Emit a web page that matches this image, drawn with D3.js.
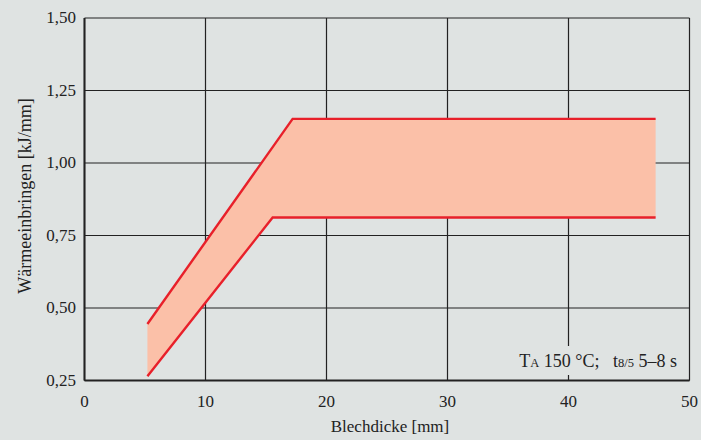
<!DOCTYPE html>
<html><head><meta charset="utf-8">
<script src="https://cdn.jsdelivr.net/npm/d3@7"></script>
<style>html,body{margin:0;padding:0;background:#dfe3e2;}svg{display:block;} text{font-family:"Liberation Serif",serif; white-space:pre;}</style>
</head><body>
<svg id="c" width="701" height="440"></svg>
<script>
const xTicks = [0,10,20,30,40,50];
const yTicks = [0.25,0.50,0.75,1.00,1.25,1.50];
const upperX = [5.2, 17.2, 47.2];
const upperY = [0.445, 1.152, 1.152];
const lowerX = [5.2, 15.55, 47.2];
const lowerY = [0.265, 0.812, 0.812];
const xLabel = "Blechdicke [mm]";
const yLabel = "Wärmeeinbringen [kJ/mm]";

const svg = d3.select("#c");
const x = d3.scaleLinear().domain([0,50]).range([84.5,689.5]);
const y = d3.scaleLinear().domain([0.25,1.5]).range([380.5,18]);
const fmt = d => d3.format(".2f")(d).replace(".", ",");
const tc = "#222";

svg.append("rect").attr("width",701).attr("height",440).attr("fill","#dfe3e2");

const g = svg.append("g");
g.selectAll("line.v").data(xTicks).join("line")
  .attr("x1",d=>x(d)).attr("x2",d=>x(d)).attr("y1",y(1.5)).attr("y2",y(0.25))
  .attr("stroke","#222").attr("stroke-width",1.2);
g.selectAll("line.h").data(yTicks).join("line")
  .attr("x1",x(0)).attr("x2",x(50)).attr("y1",d=>y(d)).attr("y2",d=>y(d))
  .attr("stroke","#222").attr("stroke-width",1.2);
svg.append("line").attr("x1",x(0)).attr("x2",x(50)).attr("y1",y(0.25)).attr("y2",y(0.25)).attr("stroke","#222").attr("stroke-width",2);
svg.append("line").attr("x1",x(0)).attr("x2",x(0)).attr("y1",y(1.5)).attr("y2",y(0.25)).attr("stroke","#222").attr("stroke-width",2);

const upper = upperX.map((v,i)=>[v,upperY[i]]);
const lower = lowerX.map((v,i)=>[v,lowerY[i]]);
const poly = upper.concat(lower.slice().reverse());
const ln = d3.line().x(d=>x(d[0])).y(d=>y(d[1]));
svg.append("path").attr("d", ln(poly)+"Z").attr("fill","#fbc0a8").attr("stroke","none");
[upper, lower].forEach(pts=>{
  svg.append("path").attr("d", ln(pts)).attr("fill","none")
    .attr("stroke","#e8202a").attr("stroke-width",2.4).attr("stroke-linejoin","miter");
});

svg.append("rect").attr("x",516).attr("y",346).attr("width",162).attr("height",29).attr("fill","#dfe3e2");
const ann = svg.append("text").attr("x",677).attr("y",367).attr("text-anchor","end")
  .attr("font-size",18).attr("fill",tc);
ann.append("tspan").text("T");
ann.append("tspan").attr("font-size",12.5).text("A");
ann.append("tspan").text(" 150 °C;   t");
ann.append("tspan").attr("font-size",12.5).text("8/5");
ann.append("tspan").text(" 5–8 s");

svg.selectAll("text.xt").data(xTicks).join("text")
  .attr("x",d=>x(d)).attr("y",407).attr("text-anchor","middle")
  .attr("font-size",17).attr("fill",tc).text(d=>d);
svg.selectAll("text.yt").data(yTicks).join("text")
  .attr("x",76).attr("y",d=>y(d)+5).attr("text-anchor","end")
  .attr("font-size",17).attr("fill",tc).text(fmt);

svg.append("text").attr("x",x(25)+3).attr("y",432).attr("text-anchor","middle")
  .attr("font-size",17).attr("fill",tc).text(xLabel);
svg.append("text").attr("transform",`translate(31,196) rotate(-90)`).attr("text-anchor","middle")
  .attr("font-size",18).attr("fill",tc).text(yLabel);
</script>
</body></html>
